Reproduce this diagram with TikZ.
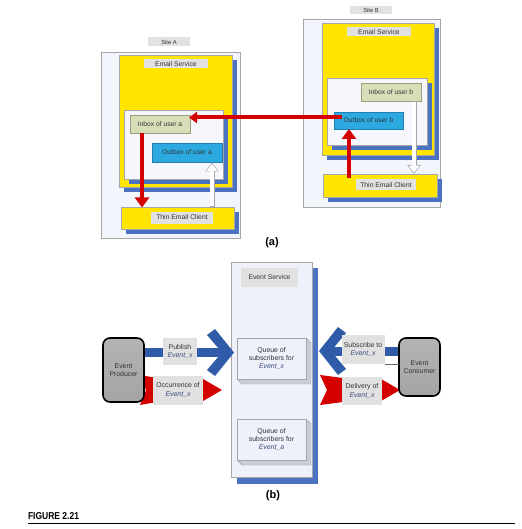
\documentclass[tikz,border=0pt]{standalone}
\usepackage{fontspec}
\setmainfont{Liberation Sans}
\usetikzlibrary{arrows.meta}
\definecolor{yellowE}{HTML}{FFE500}
\definecolor{shadowB}{HTML}{4A72C0}
\definecolor{frameFill}{HTML}{F2F5FB}
\definecolor{frameDraw}{HTML}{A6A6A6}
\definecolor{innerFill}{HTML}{F5F7FC}
\definecolor{inboxFill}{HTML}{D8DEB8}
\definecolor{inboxDraw}{HTML}{9AA07A}
\definecolor{outboxFill}{HTML}{2CA9E1}
\definecolor{outboxDraw}{HTML}{1F7FB0}
\definecolor{labelGray}{HTML}{E1E1E1}
\definecolor{redA}{HTML}{D40000}
\definecolor{blueA}{HTML}{2F5BA8}
\definecolor{queueFill}{HTML}{EEF1FA}
\definecolor{bevel}{HTML}{C9CDDA}
\definecolor{txt}{HTML}{333333}
\definecolor{itxt}{HTML}{3A4A7A}
\definecolor{entTop}{HTML}{B4B4B4}
\definecolor{entMid}{HTML}{DDDDDD}
\definecolor{entBot}{HTML}{A4A4A4}
\begin{document}
\begin{tikzpicture}[x=1pt,y=-1pt,
  every node/.style={inner sep=0pt,outer sep=0pt,text=txt},
  sz/.style 2 args={minimum width=#1pt,minimum height=#2pt},
  frame/.style={draw=frameDraw,fill=frameFill,line width=0.6pt},
  ybox/.style={draw=frameDraw,fill=yellowE,line width=0.4pt},
  shad/.style={fill=shadowB},
  inner/.style={draw=frameDraw,fill=innerFill,line width=0.5pt},
  inbox/.style={draw=inboxDraw,fill=inboxFill,line width=0.5pt,font=\fontsize{6.7}{7}\selectfont},
  outbox/.style={draw=outboxDraw,fill=outboxFill,line width=0.5pt,font=\fontsize{6.7}{7}\selectfont},
  glabel/.style={fill=labelGray,font=\fontsize{6.8}{7}\selectfont},
  slabel/.style={fill=labelGray,font=\fontsize{5.8}{7}\selectfont},
  elabel/.style={fill=labelGray,align=center,font=\fontsize{6.9}{8.3}\selectfont},
  redarrow/.style={draw=redA,line width=4.5pt,-{Triangle[width=14pt,length=10pt]}},
  whiteout/.style={draw=frameDraw,line width=5pt,-{Triangle[width=13pt,length=9pt]}},
  whitein/.style={draw=white,line width=3.6pt,shorten >=1.3pt,-{Triangle[width=10.5pt,length=7pt]}},
  ent/.style={draw=black,line width=1.6pt,rounded corners=7pt,shading=axis,top color=entTop,middle color=entMid,bottom color=entBot,align=center,font=\fontsize{6.9}{8.3}\selectfont},
  queue/.style={draw=frameDraw,fill=queueFill,line width=0.5pt,align=center,font=\fontsize{6.9}{8.3}\selectfont},
]
\useasboundingbox (0,0) rectangle (521,529);
\fill[white] (0,0) rectangle (521,529);

% ---------------- Site A ----------------
\node[slabel,sz={42}{9}] (siteA) at (169,42) {Site A};
\node[frame,sz={139}{186}] (frameA) at (170.5,145) {};
\fill[shad] (124,60) rectangle (237,192);
\node[ybox,sz={113}{132}] (esA) at (175.5,121) {};
\node[glabel,sz={64}{9}] (esAl) at (176,64) {Email Service};
\fill[shad] (129,115) rectangle (228,184);
\node[inner,sz={99}{69}] (inA) at (173.5,144.5) {};
\node[inbox,sz={60}{18}] (inboxA) at (160,124) {Inbox of user a};
\node[outbox,sz={70}{19}] (outboxA) at (187,152.5) {Outbox of user a};
\fill[shad] (126,212) rectangle (239,234);
\node[ybox,sz={113}{22}] (thinA) at (177.5,218) {};
\node[glabel,sz={62}{12}] (thinAl) at (182,217.5) {Thin Email Client};

% ---------------- Site B ----------------
\node[slabel,sz={42}{8}] (siteB) at (371,10.5) {Site B};
\node[frame,sz={137}{188}] (frameB) at (371.5,113) {};
\fill[shad] (327,28) rectangle (439,160);
\node[ybox,sz={112}{132}] (esB) at (378,89) {};
\node[glabel,sz={64}{9}] (esBl) at (379,32) {Email Service};
\fill[shad] (332,83) rectangle (432,150);
\node[inner,sz={100}{67}] (inB) at (377,111.5) {};
\node[inbox,sz={60}{18}] (inboxB) at (391,92) {Inbox of user b};
\node[outbox,sz={69}{17}] (outboxB) at (368.5,120.5) {Outbox of user b};
\fill[shad] (328,179) rectangle (442,202);
\node[ybox,sz={114}{23}] (thinB) at (380,185.5) {};
\node[glabel,sz={60}{11}] (thinBl) at (386,185) {Thin Email Client};

% ---------------- arrows (a) ----------------
\coordinate (ra1) at (142,133);
\coordinate (ra2) at (142,207.5);
\draw[redarrow] (ra1) -- (ra2);
\coordinate (wa1) at (212,207);
\coordinate (wa2) at (212,162.5);
\draw[whiteout] (wa1) -- (wa2);
\draw[whitein] ([yshift=0.6pt]wa1) -- (wa2);
\coordinate (wb1) at (414,101);
\coordinate (wb2) at (414,174);
\draw[whiteout] (wb1) -- (wb2);
\draw[whitein] ([yshift=-0.6pt]wb1) -- (wb2);
\coordinate (rb1) at (349,178);
\coordinate (rb2) at (349,129);
\draw[redarrow] (rb1) -- (rb2);
\coordinate (rh1) at (342,117.5);
\coordinate (rh2) at (189,117.5);
\draw[draw=redA,line width=4pt,-{Triangle[width=11pt,length=8pt]}] (rh1) -- (rh2);

\node[font=\bfseries\fontsize{11}{12}\selectfont,text=black] (capa) at (272,243) {(a)};

% ---------------- (b) Event service ----------------
\fill[shad] (237,268) rectangle (318,484);
\node[draw=frameDraw,fill=queueFill,line width=0.6pt,sz={81}{215}] (evs) at (271.5,369.5) {};
\node[glabel,sz={57}{19}] (evsl) at (269.5,277.5) {Event Service};

% queue x
\fill[bevel,draw=frameDraw,line width=0.4pt] (306,338) -- (311,343) -- (311,384) -- (242,384) -- (237,379) -- (306,379) -- cycle;
\node[queue,sz={69}{41}] (qx) at (271.5,358.5) {Queue of\\subscribers for\\\textcolor{itxt}{\itshape Event\_x}};
% queue a
\fill[bevel,draw=frameDraw,line width=0.4pt] (306,419) -- (311,424) -- (311,465) -- (242,465) -- (237,460) -- (306,460) -- cycle;
\node[queue,sz={69}{41}] (qa) at (271.5,439.5) {Queue of\\subscribers for\\\textcolor{itxt}{\itshape Event\_a}};

% publish arrow (blue)
\fill[blueA] (144,348) rectangle (222,357);
\fill[blueA] (215,329) -- (234,352.5) -- (215,376) -- (207,370) -- (222,352.5) -- (207,335) -- cycle;
% occurrence arrow (red)
\fill[redA] (140,375) -- (157,378) -- (157,402) -- (140,405) -- (146,390) -- cycle;
\fill[redA] (156,385) rectangle (205,395);
\fill[redA] (203,379) -- (222,390) -- (203,401) -- cycle;

% subscribe arrow (blue)
\fill[blueA] (328,346.5) rectangle (401,355.5);
\fill[blueA] (338,327) -- (319,351) -- (338,375) -- (346,369) -- (331,351) -- (346,333) -- cycle;
% delivery arrow (red)
\fill[redA] (320,375) -- (343,378) -- (343,402) -- (320,405) -- (327,390) -- cycle;
\fill[redA] (342,385) rectangle (384,395);
\fill[redA] (381,379) -- (400,390) -- (381,401) -- cycle;

\node[ent,sz={41}{64}] (prod) at (123.5,370) {Event\\Producer};
\node[ent,sz={41}{58}] (cons) at (419.5,367) {Event\\Consumer};

\node[elabel,sz={34}{27}] (pub) at (180,351.5) {Publish\\\textcolor{itxt}{\itshape Event\_x}};
\node[elabel,sz={50}{29}] (occ) at (178,390) {Occurrence of\\\textcolor{itxt}{\itshape Event\_x}};
\node[elabel,sz={43}{29}] (sub) at (363,349.5) {Subscribe to\\\textcolor{itxt}{\itshape Event\_x}};
\node[elabel,sz={40}{28}] (del) at (362,391) {Delivery of\\\textcolor{itxt}{\itshape Event\_x}};
\draw[gray!80!black,line width=0.5pt] (sub.south east) -- (cons.west |- sub.south east);

\node[font=\bfseries\fontsize{11}{12}\selectfont,text=black] (capb) at (273,496) {(b)};

% ---------------- figure caption ----------------
\node[anchor=west,xscale=0.85,font=\bfseries\fontsize{10}{10}\selectfont,text=black] (fig) at (28,516) {FIGURE 2.21};
\coordinate (r1) at (28,523);
\coordinate (r2) at (515,523);
\draw[black,line width=0.8pt] (r1) -- (r2);
\end{tikzpicture}
\end{document}
